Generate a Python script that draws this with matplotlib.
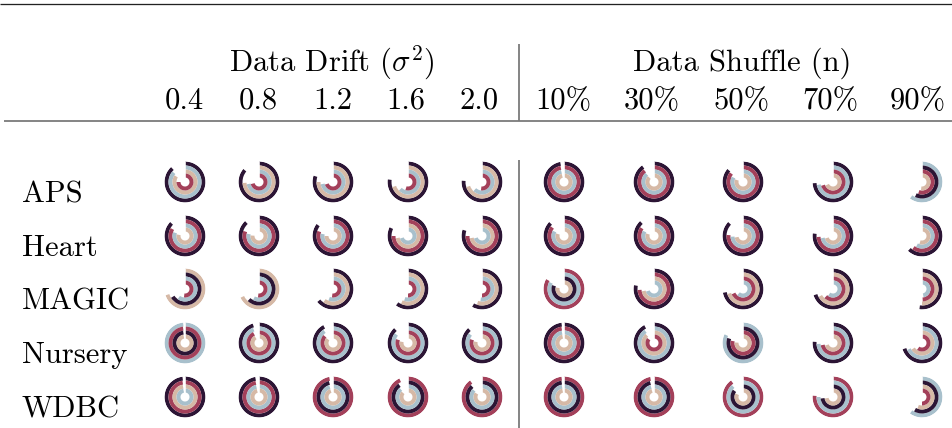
import numpy as np
import matplotlib
matplotlib.use("Agg")
import matplotlib.pyplot as plt

plt.rcParams["font.family"] = "cmr10"
plt.rcParams["mathtext.fontset"] = "cm"
plt.rcParams["axes.unicode_minus"] = False

# ---- table layout ---------------------------------------------------------
datasets = ["APS", "Heart", "MAGIC", "Nursery", "WDBC"]
drift_levels = ["0.4", "0.8", "1.2", "1.6", "2.0"]
shuffle_levels = ["10%", "30%", "50%", "70%", "90%"]

# ---- scores per method (rows: datasets, cols: 5 drift + 5 shuffle settings)
ring_dark = [
    [0.88, 0.86, 0.80, 0.77, 0.76, 0.970, 0.90, 0.86, 0.74, 0.57],
    [0.87, 0.88, 0.85, 0.82, 0.80, 0.87, 0.88, 0.87, 0.77, 0.62],
    [0.66, 0.62, 0.64, 0.60, 0.58, 0.80, 0.78, 0.72, 0.70, 0.52],
    [0.975, 0.95, 0.92, 0.88, 0.88, 0.980, 0.92, 0.80, 0.76, 0.70],
    [0.980, 0.970, 0.96, 0.90, 0.88, 0.975, 0.96, 0.85, 0.73, 0.58],
]
ring_red = [
    [0.75, 0.71, 0.70, 0.55, 0.52, 0.965, 0.89, 0.85, 0.70, 0.55],
    [0.83, 0.80, 0.80, 0.75, 0.75, 0.85, 0.84, 0.76, 0.74, 0.60],
    [0.52, 0.52, 0.52, 0.50, 0.50, 0.83, 0.74, 0.68, 0.62, 0.49],
    [0.980, 0.92, 0.86, 0.80, 0.80, 0.975, 0.85, 0.78, 0.72, 0.60],
    [0.975, 0.965, 0.97, 0.93, 0.90, 0.980, 0.97, 0.90, 0.76, 0.50],
]
ring_blue = [
    [0.86, 0.72, 0.72, 0.63, 0.62, 0.960, 0.88, 0.82, 0.72, 0.60],
    [0.80, 0.78, 0.78, 0.70, 0.70, 0.82, 0.82, 0.74, 0.72, 0.58],
    [0.60, 0.58, 0.56, 0.55, 0.52, 0.82, 0.70, 0.62, 0.60, 0.47],
    [0.985, 0.94, 0.90, 0.85, 0.85, 0.970, 0.90, 0.82, 0.74, 0.68],
    [0.965, 0.960, 0.95, 0.88, 0.86, 0.970, 0.955, 0.88, 0.75, 0.60],
]
ring_tan = [
    [0.84, 0.74, 0.75, 0.70, 0.70, 0.955, 0.87, 0.80, 0.68, 0.52],
    [0.78, 0.76, 0.75, 0.72, 0.72, 0.80, 0.80, 0.72, 0.70, 0.55],
    [0.70, 0.68, 0.60, 0.57, 0.55, 0.78, 0.72, 0.70, 0.67, 0.50],
    [0.970, 0.91, 0.85, 0.78, 0.78, 0.965, 0.88, 0.76, 0.70, 0.66],
    [0.970, 0.955, 0.945, 0.86, 0.84, 0.965, 0.95, 0.82, 0.72, 0.56],
]

series = [
    (ring_dark, "#2c1535"),
    (ring_red, "#a3405a"),
    (ring_blue, "#a8c0cc"),
    (ring_tan, "#d6b9a6"),
]

W, H = 953, 428
fig = plt.figure(figsize=(W / 100, H / 100), dpi=100)
bg = fig.add_axes([0, 0, 1, 1])
bg.set_xlim(0, W)
bg.set_ylim(H, 0)
bg.set_axis_off()

px = 0.72  # one pixel in points
rule_grey = "#7a7a7a"

# rules
bg.plot([0, W], [4, 4], color="#222222", lw=1.3 * px, solid_capstyle="butt")
bg.plot([4, W], [121, 121], color=rule_grey, lw=1.8 * px, solid_capstyle="butt")
bg.plot([519, 519], [44, 121], color=rule_grey, lw=1.8 * px, solid_capstyle="butt")
bg.plot([519, 519], [160, H], color=rule_grey, lw=1.8 * px, solid_capstyle="butt")

fs = 22
label_x = [184, 258, 333, 406, 479, 563, 652, 742, 830, 918]
glyph_x = [185, 259, 333, 408, 482, 564, 654, 743, 833, 922]
glyph_y = [182, 236, 289, 343, 397]

bg.text(332, 63, r"Data Drift ($\sigma^2$)", ha="center", va="center", fontsize=fs)
bg.text(742, 63, "Data Shuffle (n)", ha="center", va="center", fontsize=fs)
for x, lab in zip(label_x, drift_levels + shuffle_levels):
    bg.text(x, 101, lab, ha="center", va="center", fontsize=fs)

for y, name in zip(glyph_y, datasets):
    bg.text(22, y + 20, name, ha="left", va="baseline", fontsize=fs)

# ---- radial bar glyphs ----------------------------------------------------
hole, ring_w = 4.5, 4.0
outer = hole + 4 * ring_w
size = 2 * outer

for i, y in enumerate(glyph_y):
    for j, x in enumerate(glyph_x):
        ax = fig.add_axes([(x - outer) / W, 1 - (y + outer) / H, size / W, size / H],
                          projection="polar")
        ax.set_theta_zero_location("N")
        ax.set_theta_direction(-1)
        ax.set_ylim(0, outer)
        ax.set_axis_off()
        ax.patch.set_alpha(0)
        vals = sorted(((s[i][j], c) for s, c in series), key=lambda t: -t[0])
        for k, (v, c) in enumerate(vals):
            bottom = outer - (k + 1) * ring_w
            ax.bar(0, ring_w, width=2 * np.pi * v, bottom=bottom, align="edge",
                   color=c, edgecolor="none", linewidth=0)
        ax.plot([0, 0], [hole - 1, outer + 1], color="white", lw=1.6 * px,
                solid_capstyle="butt")

fig.savefig("out.png", dpi=100)
